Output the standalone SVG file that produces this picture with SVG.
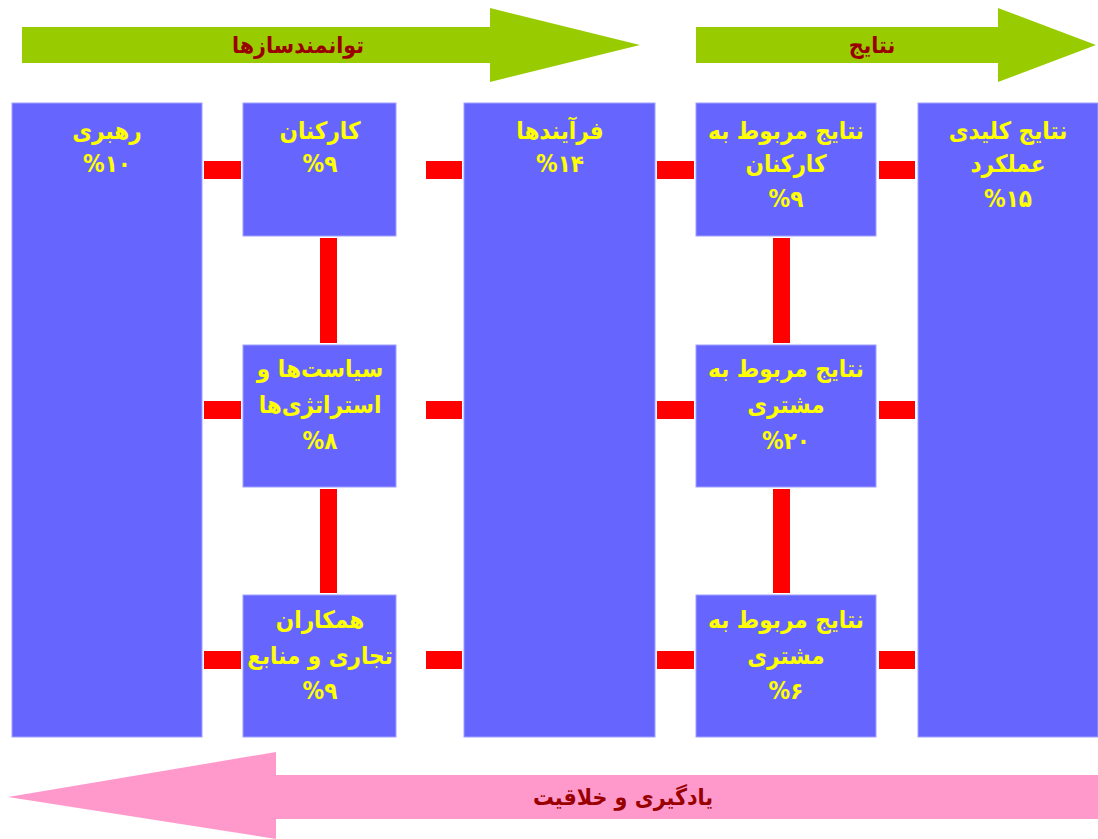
<svg xmlns="http://www.w3.org/2000/svg" width="1098" height="839" viewBox="0 0 1098 839">
<style>
.box{fill:#6666FF;stroke:#A0A0FF;stroke-width:1}
.con{fill:#FF0000}
.t{font-family:"DejaVu Sans Condensed","DejaVu Sans",sans-serif;font-weight:bold;font-size:24px;fill:#FFFF00;text-anchor:middle}
.h{font-family:"DejaVu Sans Condensed","DejaVu Sans",sans-serif;font-weight:bold;font-size:23px;fill:#990000;text-anchor:middle}
</style>
<rect width="1098" height="839" fill="#FFFFFF"/>
<g id="arrow-enablers">
<polygon points="22,27 490,27 490,8 640,45 490,82 490,63 22,63" fill="#99CC00"/>
<text class="h" x="298" y="53">توانمندسازها</text>
</g>
<g id="arrow-results">
<polygon points="696,27 998,27 998,8 1096,45 998,82 998,63 696,63" fill="#99CC00"/>
<text class="h" x="872" y="53">نتایج</text>
</g>
<g id="arrow-learning">
<polygon points="1098,775 276,775 276,752 8,797 276,839 276,819 1098,819" fill="#FF99CC"/>
<text class="h" x="623" y="805">یادگیری و خلاقیت</text>
</g>
<g id="connectors">
<rect class="con" x="204" y="161" width="37" height="18"/>
<rect class="con" x="426" y="161" width="36" height="18"/>
<rect class="con" x="657" y="161" width="37" height="18"/>
<rect class="con" x="879" y="161" width="36" height="18"/>
<rect class="con" x="204" y="401" width="37" height="18"/>
<rect class="con" x="426" y="401" width="36" height="18"/>
<rect class="con" x="657" y="401" width="37" height="18"/>
<rect class="con" x="879" y="401" width="36" height="18"/>
<rect class="con" x="204" y="651" width="37" height="18"/>
<rect class="con" x="426" y="651" width="36" height="18"/>
<rect class="con" x="657" y="651" width="37" height="18"/>
<rect class="con" x="879" y="651" width="36" height="18"/>
<rect class="con" x="320" y="238" width="17" height="105"/>
<rect class="con" x="320" y="489" width="17" height="104"/>
<rect class="con" x="773" y="238" width="17" height="105"/>
<rect class="con" x="773" y="489" width="17" height="104"/>
</g>
<g id="leadership">
<rect class="box" x="12" y="103" width="190" height="634"/>
<text class="t" x="107" y="139">رهبری</text>
<text class="t" x="107" y="172">%۱۰</text>
</g>
<g id="people">
<rect class="box" x="243" y="103" width="153" height="133"/>
<text class="t" x="320" y="139">کارکنان</text>
<text class="t" x="320" y="172">%۹</text>
</g>
<g id="policy">
<rect class="box" x="243" y="345" width="153" height="142"/>
<text class="t" x="320" y="377">سیاست‌ها و</text>
<text class="t" x="320" y="413">استراتژی‌ها</text>
<text class="t" x="320" y="449">%۸</text>
</g>
<g id="partnerships">
<rect class="box" x="243" y="595" width="153" height="142"/>
<text class="t" x="320" y="628">همکاران</text>
<text class="t" x="320" y="664">تجاری و منابع</text>
<text class="t" x="320" y="699">%۹</text>
</g>
<g id="processes">
<rect class="box" x="464" y="103" width="191" height="634"/>
<text class="t" x="560" y="139">فرآیندها</text>
<text class="t" x="560" y="172">%۱۴</text>
</g>
<g id="people-results">
<rect class="box" x="696" y="103" width="180" height="133"/>
<text class="t" x="786" y="139">نتایج مربوط به</text>
<text class="t" x="786" y="172">کارکنان</text>
<text class="t" x="786" y="207">%۹</text>
</g>
<g id="customer-results">
<rect class="box" x="696" y="345" width="180" height="142"/>
<text class="t" x="786" y="377">نتایج مربوط به</text>
<text class="t" x="786" y="413">مشتری</text>
<text class="t" x="786" y="449">%۲۰</text>
</g>
<g id="society-results">
<rect class="box" x="696" y="595" width="180" height="142"/>
<text class="t" x="786" y="628">نتایج مربوط به</text>
<text class="t" x="786" y="664">مشتری</text>
<text class="t" x="786" y="699">%۶</text>
</g>
<g id="key-results">
<rect class="box" x="918" y="103" width="180" height="634"/>
<text class="t" x="1008" y="139">نتایج کلیدی</text>
<text class="t" x="1008" y="172">عملکرد</text>
<text class="t" x="1008" y="207">%۱۵</text>
</g>
</svg>
